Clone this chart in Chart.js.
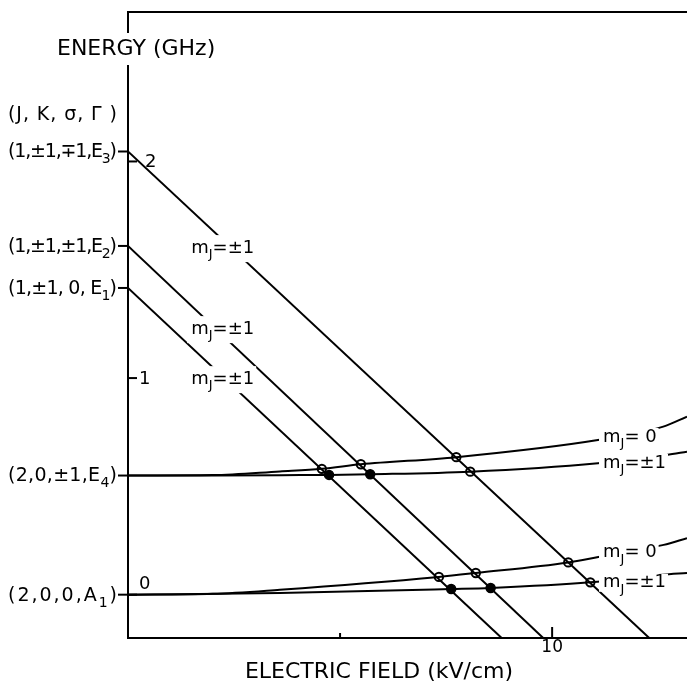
<!DOCTYPE html>
<html lang="en">
<head>
    <meta charset="UTF-8">
    <title>Stark energy levels</title>
    <script src="https://cdn.jsdelivr.net/npm/chart.js"></script>
    <style>
        body { margin: 0; background: #fff; overflow: hidden; }
        #wrap { width: 687px; height: 683px; }
    </style>
</head>
<body>
    <div id="wrap"><canvas id="starkChart"></canvas></div>

    <script>
        // zero-field levels (J, K, sigma, Gamma) and their energies in GHz
        const levelText = ['(1,±1,∓1,E', '(1,±1,±1,E', '(1,±1, 0, E', '(2,0,±1,E', '(2,0,0,A'];
        const levelSub = ['3', '2', '1', '4', '1'];
        const levelEnergy = [2.046, 1.61, 1.416, 0.55, 0];

        // energy axis ticks and field axis ticks
        const energyTicks = [0, 1, 2];
        const fieldTicks = [5, 10];
        const fieldTickLabels = ['', '10'];

        // J=1 levels, linear Stark shift (kV/cm, GHz)
        const e3Field = [0, 12.29];
        const e3Energy = [2.046, -0.2];
        const e2Field = [0, 9.79];
        const e2Energy = [1.61, -0.2];
        const e1Field = [0, 8.81];
        const e1Energy = [1.416, -0.2];

        // J=2 levels, quadratic Stark shift
        const e4m0Field = [0, 2.0, 3.58, 4.57, 5.49, 7.74, 11.08, 12.62, 13.18];
        const e4m0Energy = [0.55, 0.552, 0.569, 0.581, 0.602, 0.635, 0.714, 0.776, 0.822];
        const e4m1Field = [0, 2.0, 4.06, 4.74, 5.71, 8.07, 11.08, 12.7, 13.18];
        const e4m1Energy = [0.55, 0.55, 0.552, 0.553, 0.556, 0.568, 0.607, 0.645, 0.66];
        const a1m0Field = [0, 2.0, 3.58, 7.33, 8.2, 10.38, 11.09, 12.63, 13.18];
        const a1m0Energy = [0, 0.004, 0.023, 0.082, 0.1, 0.149, 0.174, 0.23, 0.261];
        const a1m1Field = [0, 3.58, 7.62, 8.55, 10.9, 12.59, 13.18];
        const a1m1Energy = [0, 0.008, 0.026, 0.031, 0.057, 0.092, 0.1];

        // level crossings
        const openField = [4.57, 5.49, 7.74, 8.07, 7.33, 8.2, 10.38, 10.9];
        const openEnergy = [0.581, 0.602, 0.635, 0.568, 0.082, 0.1, 0.149, 0.057];
        const filledField = [4.74, 5.71, 7.62, 8.55];
        const filledEnergy = [0.553, 0.556, 0.026, 0.031];

        const FONT = '"DejaVu Sans", sans-serif';

        function pts(xs, ys) {
            return xs.map((v, i) => ({ x: v, y: ys[i] }));
        }

        function lineSet(xs, ys, curved) {
            return {
                data: pts(xs, ys),
                showLine: true,
                borderColor: '#000',
                borderWidth: 2,
                pointRadius: 0,
                tension: curved ? 0.4 : 0,
                cubicInterpolationMode: curved ? 'monotone' : 'default'
            };
        }

        // text with one subscript: [main, sub, tail], drawn char by char
        function glyphs(parts) {
            const out = [];
            parts.forEach((p, k) => {
                for (const ch of p) out.push({ ch, sub: k === 1 });
            });
            return out;
        }

        function fontFor(g, size) {
            return (g.sub ? Math.round(size * 0.72) : size) + 'px ' + FONT;
        }

        function partsWidth(ctx, parts, size) {
            let w = 0;
            glyphs(parts).forEach(g => {
                ctx.font = fontFor(g, size);
                w += ctx.measureText(g.ch).width;
            });
            return w;
        }

        // fit: optional total width; spacing is spread between glyphs
        function drawParts(ctx, parts, left, mid, size, fit) {
            const gs = glyphs(parts);
            const gap = fit ? (fit - partsWidth(ctx, parts, size)) / (gs.length - 1) : 0;
            ctx.textAlign = 'left';
            ctx.textBaseline = 'middle';
            let cx = left;
            gs.forEach(g => {
                ctx.font = fontFor(g, size);
                ctx.fillText(g.ch, cx, g.sub ? mid + size * 0.38 : mid);
                cx += ctx.measureText(g.ch).width + gap;
            });
        }

        // m_J tags: left edge / centre in data units, cut of the line around them
        const mjTags = [
            { x: 1.49, y: 1.60, t: '=±1', up: 13, down: 14 },
            { x: 1.49, y: 1.226, t: '=±1', up: 13, down: 14 },
            { x: 1.49, y: 0.995, t: '=±1', up: 13, down: 14 },
            { x: 11.2, y: 0.728, t: '= 0', up: 9, down: 9 },
            { x: 11.2, y: 0.608, t: '=±1', up: 9, down: 9 },
            { x: 11.2, y: 0.194, t: '= 0', up: 9, down: 9 },
            { x: 11.2, y: 0.055, t: '=±1', up: 9, down: 9 }
        ];

        const overlay = {
            id: 'overlay',
            afterDatasetsDraw(chart) {
                const { ctx, chartArea: a, scales: { x, y } } = chart;
                ctx.save();
                ctx.fillStyle = '#000';
                ctx.strokeStyle = '#000';
                ctx.lineWidth = 2;

                // top frame
                ctx.beginPath();
                ctx.moveTo(a.left - 1, a.top);
                ctx.lineTo(a.right, a.top);
                ctx.stroke();

                // energy ticks inside the frame
                energyTicks.forEach(v => {
                    const py = y.getPixelForValue(v);
                    ctx.beginPath();
                    ctx.moveTo(a.left, py);
                    ctx.lineTo(a.left + 9, py);
                    ctx.stroke();
                    ctx.font = '18px ' + FONT;
                    ctx.textAlign = 'left';
                    ctx.textBaseline = 'middle';
                    const dx = v === 2 ? 17 : 11;
                    const dy = v === 0 ? -10 : 1;
                    ctx.fillText(String(v), a.left + dx, py + dy);
                });

                // field ticks
                fieldTicks.forEach((v, i) => {
                    const px = x.getPixelForValue(v);
                    ctx.beginPath();
                    ctx.moveTo(px, a.bottom);
                    ctx.lineTo(px, a.bottom - (fieldTickLabels[i] ? 11 : 5));
                    ctx.stroke();
                    ctx.font = '17px ' + FONT;
                    ctx.textAlign = 'center';
                    ctx.textBaseline = 'middle';
                    ctx.fillText(fieldTickLabels[i], px, a.bottom + 10);
                });

                // level labels with leader dash, all spanning the same width
                const labelLeft = 8;
                const labelWidth = a.left - 11 - labelLeft;
                levelText.forEach((txt, i) => {
                    const py = y.getPixelForValue(levelEnergy[i]);
                    ctx.beginPath();
                    ctx.moveTo(a.left - 10, py);
                    ctx.lineTo(a.left, py);
                    ctx.stroke();
                    drawParts(ctx, [txt, levelSub[i], ')'], labelLeft, py + 1, 19, labelWidth);
                });

                drawParts(ctx, ['(J, K, σ, Γ )', '', ''], labelLeft, 115, 19, labelWidth);

                // m_J tags break the lines they sit on
                mjTags.forEach(tag => {
                    const parts = ['m', 'J', tag.t];
                    const w = partsWidth(ctx, parts, 18);
                    const px = x.getPixelForValue(tag.x);
                    const py = y.getPixelForValue(tag.y);
                    ctx.fillStyle = '#fff';
                    ctx.fillRect(px - 4, py - tag.up, w + 6, tag.up + tag.down);
                    ctx.fillStyle = '#000';
                    drawParts(ctx, parts, px, py, 18);
                });

                // axis titles
                ctx.font = '22px ' + FONT;
                ctx.textBaseline = 'middle';
                ctx.textAlign = 'left';
                const tw = ctx.measureText('ENERGY (GHz)').width;
                ctx.fillStyle = '#fff';
                ctx.fillRect(55, 33, tw + 4, 32);
                ctx.fillStyle = '#000';
                ctx.fillText('ENERGY (GHz)', 57, 49);
                ctx.textAlign = 'center';
                ctx.fillText('ELECTRIC FIELD (kV/cm)', 379, 672);
                ctx.restore();
            }
        };

        const ctx = document.getElementById('starkChart').getContext('2d');
        new Chart(ctx, {
            type: 'scatter',
            data: {
                datasets: [
                    lineSet(e3Field, e3Energy, false),
                    lineSet(e2Field, e2Energy, false),
                    lineSet(e1Field, e1Energy, false),
                    lineSet(e4m0Field, e4m0Energy, true),
                    lineSet(e4m1Field, e4m1Energy, true),
                    lineSet(a1m0Field, a1m0Energy, true),
                    lineSet(a1m1Field, a1m1Energy, true),
                    {
                        data: pts(openField, openEnergy),
                        pointRadius: 4.2,
                        pointBackgroundColor: '#fff',
                        pointBorderColor: '#000',
                        pointBorderWidth: 2
                    },
                    {
                        data: pts(filledField, filledEnergy),
                        pointRadius: 4.5,
                        pointBackgroundColor: '#000',
                        pointBorderColor: '#000',
                        pointBorderWidth: 1.5
                    }
                ]
            },
            options: {
                responsive: true,
                maintainAspectRatio: false,
                animation: false,
                layout: { autoPadding: false, padding: { left: 128, top: 12, right: 0, bottom: 45 } },
                plugins: { legend: { display: false }, tooltip: { enabled: false } },
                scales: {
                    x: {
                        type: 'linear',
                        min: 0,
                        max: 13.18,
                        grid: { display: false, drawTicks: false, tickLength: 0 },
                        ticks: { display: false, padding: 0 },
                        border: { display: true, color: '#000', width: 2 }
                    },
                    y: {
                        min: -0.2,
                        max: 2.69,
                        grid: { display: false, drawTicks: false, tickLength: 0 },
                        ticks: { display: false, padding: 0 },
                        border: { display: true, color: '#000', width: 2 }
                    }
                }
            },
            plugins: [overlay]
        });
    </script>
</body>
</html>
